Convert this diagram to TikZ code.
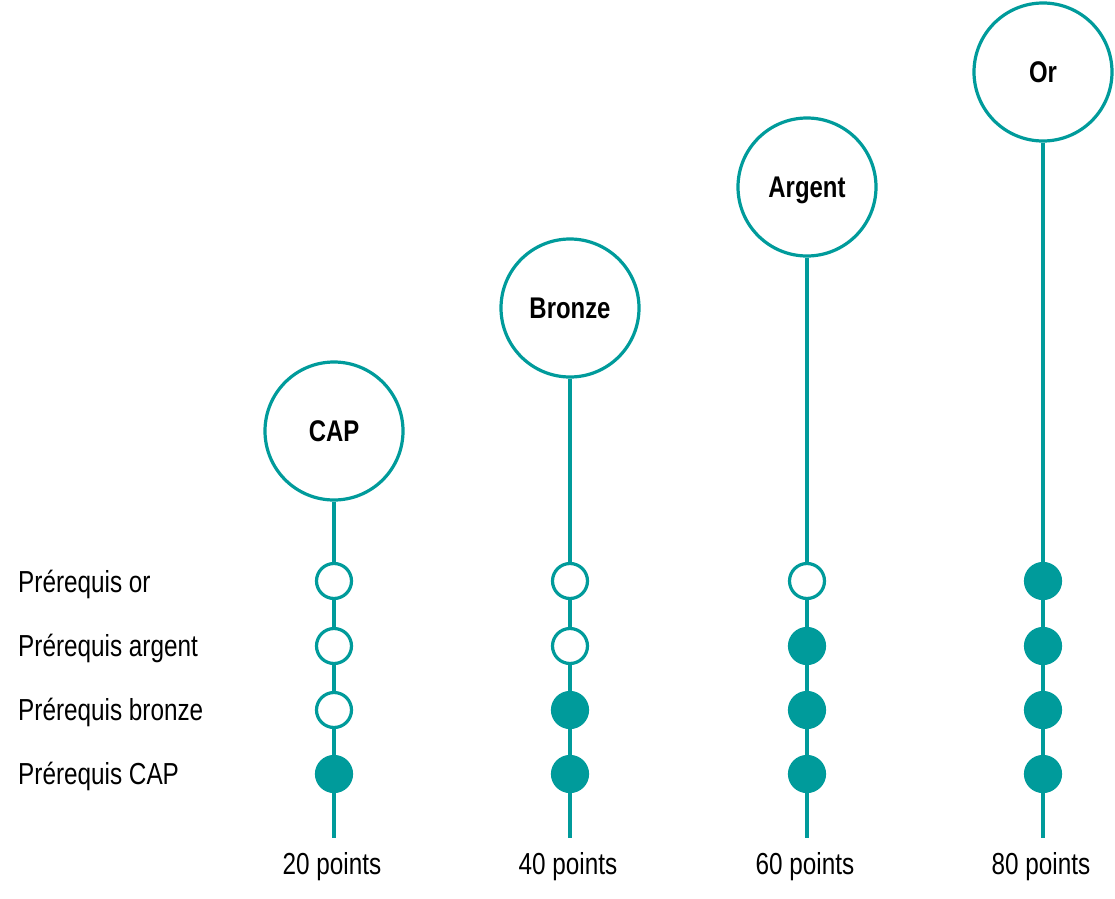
\documentclass[tikz,border=0pt]{standalone}
\usepackage{fontspec}
\setmainfont{Liberation Sans}[FakeStretch=0.8]

\definecolor{sarcelle}{RGB}{0,155,155}
\tikzset{
    niveau/.style={circle, draw=sarcelle, line width=3.2bp, fill=white, minimum size=138bp,
        inner sep=0pt, text depth=0pt, font=\bfseries\fontsize{30}{33}\selectfont},
    vide/.style={circle, draw=sarcelle, line width=3.2bp, fill=white, minimum size=35bp, inner sep=0pt},
    plein/.style={vide, fill=sarcelle},
    tige/.style={draw=sarcelle, line width=3.2bp},
    etiquette/.style={inner sep=0pt, font=\fontsize{30.5}{34}\selectfont},
}

\begin{document}
\begin{tikzpicture}[x=1bp, y=-1bp]
    \useasboundingbox (0,0) rectangle (1115,899);

    % lignes des prérequis
    \node[etiquette, anchor=base west] (p4) at (18,592) {Prérequis or};
    \node[etiquette, anchor=base west] (p3) at (18,656) {Prérequis argent};
    \node[etiquette, anchor=base west] (p2) at (18,720) {Prérequis bronze};
    \node[etiquette, anchor=base west] (p1) at (18,784) {Prérequis CAP};

    % une colonne par niveau : cercle, tige, points requis
    \foreach \nom/\txt/\x/\y/\pts/\k in {cap/CAP/334/431/20/1, bronze/Bronze/570/308/40/2,
                                         argent/Argent/807/187/60/3, or/Or/1043/72/80/4} {
        \node[niveau] (n-\nom) at (\x,\y) {\txt};
        \coordinate (fin-\nom) at (\x,838);
        \draw[tige] (n-\nom) -- (fin-\nom);
        \foreach \r/\yr in {1/774, 2/710, 3/646, 4/581} {
            \ifnum\r>\k
                \node[vide] (d-\nom-\r) at (\x,\yr) {};
            \else
                \node[plein] (d-\nom-\r) at (\x,\yr) {};
            \fi
        }
        \node[etiquette, anchor=base] (pts-\nom) at (\x-2,874) {\pts{} points};
    }
\end{tikzpicture}
\end{document}
